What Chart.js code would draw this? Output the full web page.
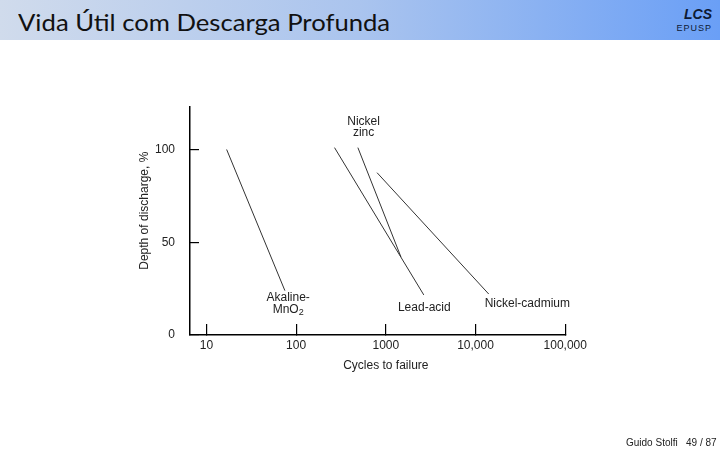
<!DOCTYPE html>
<html>
<head>
<meta charset="utf-8">
<script src="https://cdn.jsdelivr.net/npm/chart.js@4/dist/chart.umd.min.js"></script>
<style>
  html, body { margin: 0; padding: 0; background: #fff; }
  #page { position: relative; width: 720px; height: 450px; overflow: hidden; }
  #chart { position: absolute; left: 0; top: 0; }
  #hdr {
    position: absolute; left: 0; top: 0; width: 720px; height: 40px;
    background: linear-gradient(90deg, #d0dbec 0%, #aac4ee 50%, #6a9ff6 100%);
  }
  #ttl {
    position: absolute; left: 18px; top: 7px; line-height: 24px;
    font: 24px Lato, "Open Sans", sans-serif; color: #111; white-space: nowrap;
    transform-origin: 0 0;
  }
  #lcs {
    position: absolute; right: 8px; top: 6px; line-height: 14px;
    font: italic bold 14px "Liberation Sans", Arial, sans-serif; color: #0d1a33;
  }
  #ep {
    position: absolute; right: 8px; top: 23px; line-height: 9px;
    font: 9px "Liberation Sans", Arial, sans-serif; letter-spacing: 1px; color: #0d1a33;
  }
  #foot {
    position: absolute; left: 626px; top: 437px; line-height: 12px; white-space: nowrap;
    font: 10px "Liberation Sans", Arial, sans-serif; color: #222;
  }
</style>
</head>
<body>
<div id="page">
  <canvas id="chart" width="720" height="450"></canvas>
  <div id="hdr">
    <span id="ttl">Vida Útil com Descarga Profunda</span>
    <div id="lcs">LCS</div>
    <div id="ep">EPUSP</div>
  </div>
  <div id="foot">Guido Stolfi&nbsp;&nbsp;&nbsp;49 / 87</div>
</div>
<script>
// Cycles to failure (x) and depth of discharge % (y), two end points per battery type
const akalineCycles = [16.8, 75];
const akalineDepth = [100, 23.9];
const leadAcidCycles = [268, 2650];
const leadAcidDepth = [101, 21.6];
const nickelZincCycles = [488, 1476];
const nickelZincDepth = [101, 42];
const nickelCadmiumCycles = [798, 14030];
const nickelCadmiumDepth = [87.5, 22.1];

const xTicks = [10, 100, 1000, 10000, 100000];
const xTickLabels = ["10", "100", "1000", "10,000", "100,000"];
const yTicks = [0, 50, 100];

// fit title width to the original slide title
const ttl = document.getElementById("ttl");
ttl.style.transform = "scaleX(" + (372 / ttl.offsetWidth) + ")";

function pts(xs, ys) {
  return xs.map((x, i) => ({ x: x, y: ys[i] }));
}

const ink = "#222";
const labelFont = '12px "Liberation Sans", Arial, sans-serif';

// text labels anchored in data space
const seriesLabels = [
  { text: "Nickel", x: 565, y: 115 },
  { text: "zinc", x: 565, y: 109.3 },
  { text: "Akaline-", x: 81.5, y: 20.3 },
  { text: "MnO", sub: "2", x: 81.5, y: 13.9 },
  { text: "Lead-acid", x: 2685, y: 14.9 },
  { text: "Nickel-cadmium", x: 37800, y: 16.7 },
];

const textPlugin = {
  id: "textPlugin",
  afterDraw(chart) {
    const ctx = chart.ctx;
    const xs = chart.scales.x;
    const ys = chart.scales.y;
    ctx.save();
    ctx.fillStyle = ink;
    ctx.font = labelFont;
    ctx.textBaseline = "middle";
    ctx.textAlign = "center";
    seriesLabels.forEach((l) => {
      const px = xs.getPixelForValue(l.x);
      const py = ys.getPixelForValue(l.y);
      if (l.sub) {
        const w = ctx.measureText(l.text).width;
        ctx.font = '9px "Liberation Sans", Arial, sans-serif';
        const sw = ctx.measureText(l.sub).width;
        ctx.font = labelFont;
        ctx.textAlign = "left";
        const x0 = px - (w + sw) / 2;
        ctx.fillText(l.text, x0, py);
        ctx.font = '9px "Liberation Sans", Arial, sans-serif';
        ctx.fillText(l.sub, x0 + w, py + 3);
        ctx.font = labelFont;
        ctx.textAlign = "center";
      } else {
        ctx.fillText(l.text, px, py);
      }
    });
    // axis titles
    ctx.fillText("Cycles to failure", xs.getPixelForValue(1000), chart.chartArea.bottom + 31);
    ctx.translate(145, ys.getPixelForValue(67));
    ctx.rotate(-Math.PI / 2);
    ctx.fillText("Depth of discharge, %", 0, 0);
    ctx.restore();
  },
};

const lineStyle = {
  showLine: true,
  borderColor: "#333",
  borderWidth: 1,
  pointRadius: 0,
  fill: false,
};

new Chart(document.getElementById("chart"), {
  type: "scatter",
  data: {
    datasets: [
      { label: "Akaline-MnO2", data: pts(akalineCycles, akalineDepth), ...lineStyle },
      { label: "Lead-acid", data: pts(leadAcidCycles, leadAcidDepth), ...lineStyle },
      { label: "Nickel zinc", data: pts(nickelZincCycles, nickelZincDepth), ...lineStyle },
      { label: "Nickel-cadmium", data: pts(nickelCadmiumCycles, nickelCadmiumDepth), ...lineStyle },
    ],
  },
  options: {
    responsive: false,
    animation: false,
    layout: { padding: { left: 130, top: 107, right: 154, bottom: 75 } },
    plugins: {
      legend: { display: false },
      tooltip: { enabled: false },
    },
    scales: {
      x: {
        type: "logarithmic",
        position: "bottom",
        min: 6.56,
        max: 102000,
        afterBuildTicks: (s) => { s.ticks = xTicks.map((v) => ({ value: v })); },
        afterFit: (s) => { s.height = 40; },
        ticks: {
          autoSkip: false,
          maxRotation: 0,
          padding: 14,
          color: ink,
          font: { family: '"Liberation Sans", Arial, sans-serif', size: 12 },
          callback: (v) => xTickLabels[xTicks.indexOf(v)],
        },
        grid: { drawOnChartArea: false, tickLength: -11, color: "#000", lineWidth: 1.2 },
        border: { color: "#000", width: 1.5 },
      },
      y: {
        min: 0,
        max: 122.9,
        afterBuildTicks: (s) => { s.ticks = yTicks.map((v) => ({ value: v })); },
        afterFit: (s) => { s.width = 60; },
        ticks: {
          padding: 24,
          color: ink,
          font: { family: '"Liberation Sans", Arial, sans-serif', size: 12 },
        },
        grid: { drawOnChartArea: false, tickLength: -9, color: "#000", lineWidth: 1.2 },
        border: { color: "#000", width: 1.5 },
      },
    },
  },
  plugins: [textPlugin],
});
</script>
</body>
</html>
